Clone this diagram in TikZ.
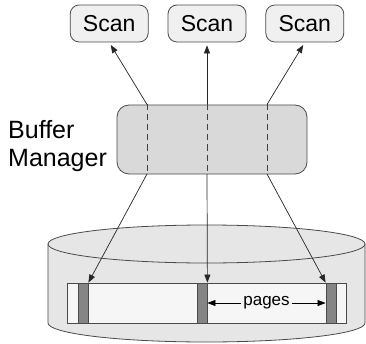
\documentclass[tikz,border=0pt]{standalone}
\usepackage{fontspec}
\setmainfont{Liberation Sans}
\usetikzlibrary{arrows.meta,positioning}
\definecolor{BufLine}{HTML}{4A4A4A}
\definecolor{BufScan}{HTML}{F0F0F0}
\definecolor{BufPool}{HTML}{D9D9D9}
\definecolor{BufDisk}{HTML}{E6E6E6}
\definecolor{BufStrip}{HTML}{F6F6F6}
\definecolor{BufPage}{HTML}{858585}
\tikzset{
  scanbox/.style={draw=BufLine,rounded corners=9pt,fill=BufScan,line width=0.8pt,
    minimum width=78pt,minimum height=37pt,inner sep=0pt,font=\fontsize{23}{27}\selectfont},
  pool/.style={draw=BufLine,rounded corners=12pt,fill=BufPool,line width=0.8pt,
    minimum width=190pt,minimum height=69pt,inner sep=0pt},
  disk/.style={draw=BufLine,fill=BufDisk,line width=0.8pt},
  pagebar/.style={draw=BufLine,fill=BufPage,line width=0.8pt,minimum width=10pt,
    minimum height=40pt,inner sep=0pt},
  link/.style={-{Triangle[length=8pt,width=6pt]},line width=0.7pt,draw=black!85},
  slot/.style={line width=0.7pt,draw=black!75,dash pattern=on 6pt off 4pt}
}

\begin{document}
\begin{tikzpicture}[x=1pt,y=1pt,node distance=19pt]
  \useasboundingbox (0,0) rectangle (366,343);
  % disk
  \draw[disk] (48,99) -- (48,20) arc[start angle=180,end angle=360,x radius=158.5,y radius=19] -- (365,99);
  \draw[disk] (206.5,99) ellipse[x radius=158.5,y radius=19];
  \node[draw=BufLine,fill=BufStrip,line width=0.8pt,minimum width=279pt,minimum height=40pt,
    inner sep=0pt] (strip) at (206.5,40) {};
  \node[pagebar] (bar1) at (83,40) {};
  \node[pagebar] (bar2) at (202,40) {};
  \node[pagebar] (bar3) at (331,40) {};
  \draw[{Triangle[length=8pt,width=6pt]}-{Triangle[length=8pt,width=6pt]},line width=0.7pt]
    (bar2.east) -- node[fill=BufStrip,inner sep=2pt,font=\fontsize{17}{20}\selectfont]{pages} (bar3.west);
  % buffer pool and scans
  \node[pool] (buf) at (212,203.5) {};
  \node[anchor=west,align=left,inner sep=0pt,font=\fontsize{25}{28}\selectfont]
    (label) at (8,197) {Buffer\\Manager};
  \node[scanbox] (scan2) at (207,319.5) {Scan};
  \node[scanbox,left=of scan2] (scan1) {Scan};
  \node[scanbox,right=of scan2] (scan3) {Scan};
  \coordinate (t1) at (147,238.5);
  \coordinate (t2) at (207,238.5);
  \coordinate (t3) at (267,238.5);
  \coordinate (b1) at (147,169);
  \coordinate (b2) at (207,169);
  \coordinate (b3) at (267,169);
  \foreach \i in {1,2,3} \draw[slot] (t\i) -- (b\i);
  \draw[link,shorten >=3pt] (t1) -- (scan1.south);
  \draw[link,shorten >=3pt] (t2) -- (scan2.south);
  \draw[link,shorten >=3pt] (t3) -- (scan3.south);
  \draw[link] (b1) -- (bar1.north east);
  \draw[link] (b2) -- (bar2.north east);
  \draw[link] (b3) -- (bar3.north west);
\end{tikzpicture}
\end{document}
